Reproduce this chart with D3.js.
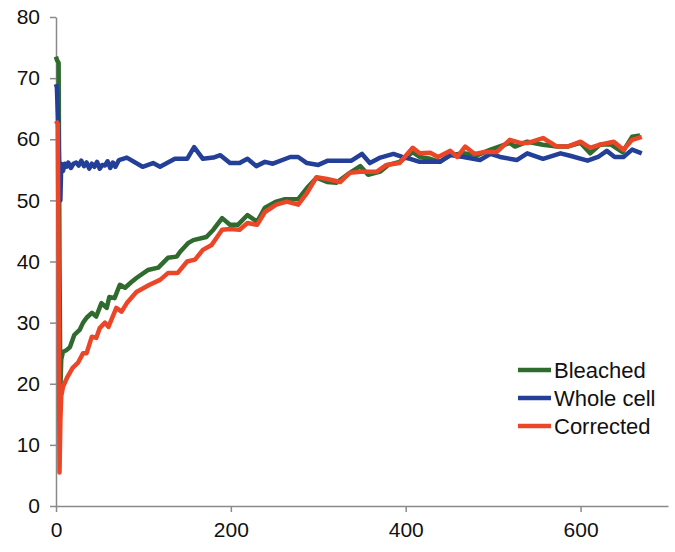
<html lang="en">
<head>
  <meta charset="UTF-8">
  <title>Bleached / Whole cell / Corrected</title>
  <style>
    body { margin: 0; background: #fff; }
    text { font-family: "Liberation Sans", Arial, sans-serif; }
  </style>
</head>
<body>
  <script src="https://d3js.org/d3.v7.min.js"></script>
  <div id="chart"></div>
  <script>

    // [time, value]
    let bleached = [
      [0, 73.5], [1, 73], [3, 72.5], [4, 40], [5, 19], [6, 24], [8, 25.2], [12, 25.5], [16, 26], [21, 28],
      [27, 28.8], [31, 30], [35, 30.8], [41, 31.6], [46, 31], [52, 33.2], [58, 32.4], [61, 34.2],
      [67, 34], [73, 36.2], [79, 35.7], [86, 36.6], [92, 37.3], [105, 38.6], [117, 39], [128, 40.6],
      [138, 40.8], [142, 41.6], [151, 43], [157, 43.5], [172, 44], [180, 45.2], [190, 47.1],
      [199, 46], [208, 46], [219, 47.6], [230, 46.5], [239, 48.8], [252, 49.8], [262, 50.2],
      [277, 50.2], [287, 52], [298, 53.7], [310, 53], [321, 52.9], [336, 54.5], [348, 55.6],
      [357, 54.2], [371, 54.7], [380, 55.8], [393, 56.3], [408, 57.9], [416, 57.1], [428, 56.8],
      [439, 56.3], [451, 57.4], [466, 57.7], [482, 57.4], [497, 58.3], [519, 59.4], [525, 58.8],
      [539, 59.6], [557, 59.1], [573, 58.8], [585, 58.8], [600, 59.4], [611, 57.7], [622, 59.1],
      [634, 59.2], [648, 57.9], [659, 60.4], [668, 60.6]
    ];

    let wholeCell = [
      [0, 69], [1, 68.5], [3, 60], [4, 52], [5, 50], [6, 56], [8, 54.8], [10, 56], [12, 55.5],
      [14, 56.2], [17, 55.3], [20, 56], [23, 56.2], [26, 55.7], [29, 56.5], [32, 55.6], [35, 56.2],
      [38, 55.2], [41, 56], [44, 55.5], [47, 56.3], [50, 55.2], [53, 55.8], [56, 55.7], [59, 56.4],
      [62, 55.3], [65, 56.2], [68, 55.5], [72, 56.6], [81, 57], [99, 55.5], [111, 56.1], [119, 55.5],
      [136, 56.8], [150, 56.8], [158, 58.7], [168, 56.8], [180, 57], [188, 57.4], [199, 56.1],
      [210, 56.1], [219, 56.8], [229, 55.6], [239, 56.3], [248, 56], [268, 57.1], [277, 57.1],
      [287, 56.1], [300, 55.8], [311, 56.5], [338, 56.5], [350, 57.6], [359, 56.1], [371, 57],
      [386, 57.6], [396, 57.1], [405, 56.8], [416, 56.3], [439, 56.3], [451, 57.4], [466, 57.1],
      [485, 56.6], [497, 57.6], [508, 57.1], [527, 56.6], [539, 57.7], [557, 56.8], [577, 57.7],
      [588, 57.3], [608, 56.5], [620, 57.1], [630, 58.1], [639, 57.1], [649, 57.1], [659, 58.3],
      [670, 57.7]
    ];

    let corrected = [
      [0, 63], [2, 62.5], [3, 40], [4, 5.5], [5, 14], [6, 18], [8, 19.5], [13, 21.1], [19, 22.6],
      [25, 23.4], [31, 25], [35, 25], [41, 27.7], [46, 27.5], [50, 29.1], [56, 30], [60, 29.3],
      [69, 32.4], [75, 31.8], [81, 33.2], [92, 35], [107, 36.2], [119, 37], [128, 38.1],
      [139, 38.1], [150, 40], [159, 40.3], [168, 41.9], [178, 42.7], [190, 45.2], [199, 45.3],
      [210, 45.2], [219, 46.3], [230, 46], [239, 48.1], [252, 49.3], [264, 49.8], [277, 49.3],
      [287, 51.2], [298, 53.8], [310, 53.5], [325, 53], [336, 54.5], [348, 54.7], [367, 54.7],
      [378, 55.8], [393, 56.1], [408, 58.6], [416, 57.7], [428, 57.8], [437, 57.1], [451, 58.1],
      [459, 57.1], [468, 58.8], [479, 57.6], [489, 57.9], [504, 57.9], [519, 59.9], [531, 59.4],
      [540, 59.4], [557, 60.2], [573, 58.8], [585, 58.8], [600, 59.6], [611, 58.6], [622, 59.1],
      [638, 59.6], [649, 58.3], [659, 59.9], [670, 60.4]
    ];

    let seriesNames = ["Bleached", "Whole cell", "Corrected"];
    let seriesColors = ["#2f6b2f", "#243f98", "#ec4628"];
    let xTicks = [0, 200, 400, 600];
    let yTicks = [0, 10, 20, 30, 40, 50, 60, 70, 80];

    function translate(x, y) { return 'translate(' + x + ',' + y + ')'; }

    let W = 675, H = 552;
    let margin = { top: 17, right: 7, bottom: 46, left: 56 };

    let svg = d3.select("#chart")
      .append("svg")
        .attr("width", W)
        .attr("height", H);

    let x = d3.scaleLinear()
      .domain([0, 700])
      .range([margin.left, W - margin.right]);

    let y = d3.scaleLinear()
      .domain([0, 80])
      .range([H - margin.bottom, margin.top]);

    // axes
    let gx = svg.append("g")
      .attr("transform", translate(0, y(0)))
      .call(d3.axisBottom(x).tickValues(xTicks).tickSizeInner(6).tickSizeOuter(0).tickPadding(10));

    let gy = svg.append("g")
      .attr("transform", translate(x(0), 0))
      .call(d3.axisLeft(y).tickValues(yTicks).tickSizeInner(6).tickSizeOuter(0).tickPadding(10));

    [gx, gy].forEach(g => {
      g.select(".domain").attr("stroke", "#8a8a8a").attr("stroke-width", 1.5);
      g.selectAll(".tick line").attr("stroke", "#8a8a8a").attr("stroke-width", 1.5);
      g.selectAll(".tick text")
        .attr("fill", "#111")
        .style("font-family", "'Liberation Sans', Arial, sans-serif")
        .style("font-size", "21px");
    });

    // lines
    let line = d3.line()
      .x(d => x(d[0]))
      .y(d => y(d[1]));

    [bleached, wholeCell, corrected].forEach((data, i) => {
      svg.append("path")
        .datum(data)
        .attr("fill", "none")
        .attr("stroke", seriesColors[i])
        .attr("stroke-width", 4.5)
        .attr("stroke-linejoin", "round")
        .attr("d", line);
    });

    // legend
    let legend = svg.append("g")
      .attr("transform", translate(518, 370));

    seriesNames.forEach((name, i) => {
      let row = legend.append("g").attr("transform", translate(0, i * 28));
      row.append("line")
        .attr("x1", 0).attr("x2", 33)
        .attr("y1", 0).attr("y2", 0)
        .attr("stroke", seriesColors[i])
        .attr("stroke-width", 4.5);
      row.append("text")
        .attr("x", 36)
        .attr("dy", "0.36em")
        .style("font-size", "22px")
        .attr("fill", "#111")
        .text(name);
    });

  </script>
</body>
</html>
